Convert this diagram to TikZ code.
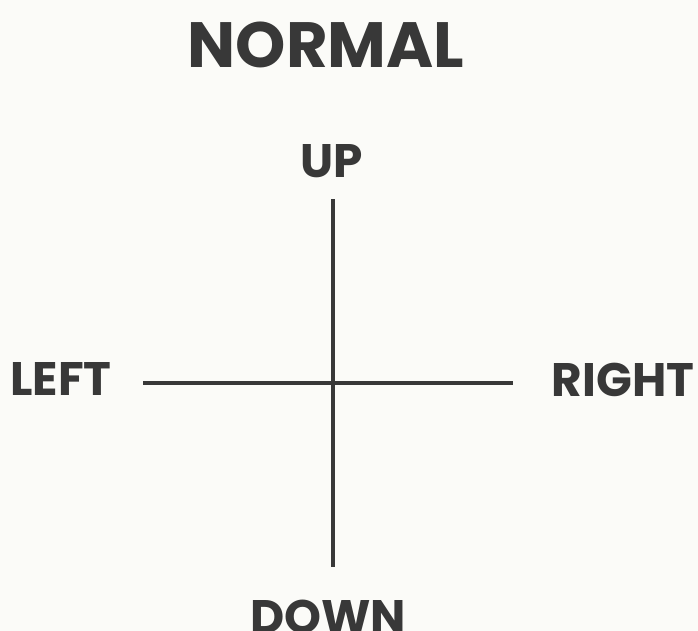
\documentclass[tikz,border=0pt]{standalone}
\usepackage{fontspec}
\setmainfont{Poppins}
\definecolor{paper}{HTML}{FBFBF8}
\definecolor{ink}{HTML}{383838}
\begin{document}
\begin{tikzpicture}[x=1pt,y=-1pt,
  lbl/.style={font=\bfseries\fontsize{47}{47}\selectfont, text=ink, anchor=base, inner sep=0pt},
  ttl/.style={font=\bfseries\fontsize{64}{64}\selectfont, text=ink, anchor=base, inner sep=0pt},
  axisline/.style={draw=ink, line width=3.5pt}]
\fill[paper] (0,0) rectangle (698,631);
\useasboundingbox (0,0) rectangle (698,631);
\node[ttl] (title) at (326,68) {NORMAL};
\node[lbl] (up) at (332,178) {UP};
\node[lbl] (left) at (61,395) {LEFT};
\node[lbl] (right) at (623,396) {RIGHT};
\node[lbl] (down) at (328,633) {DOWN};
\coordinate (vtop) at (333,199);
\coordinate (vbot) at (333,567);
\coordinate (hleft) at (143,383);
\coordinate (hright) at (513,383);
\draw[axisline] (vtop) -- (vbot);
\draw[axisline] (hleft) -- (hright);
\end{tikzpicture}
\end{document}
